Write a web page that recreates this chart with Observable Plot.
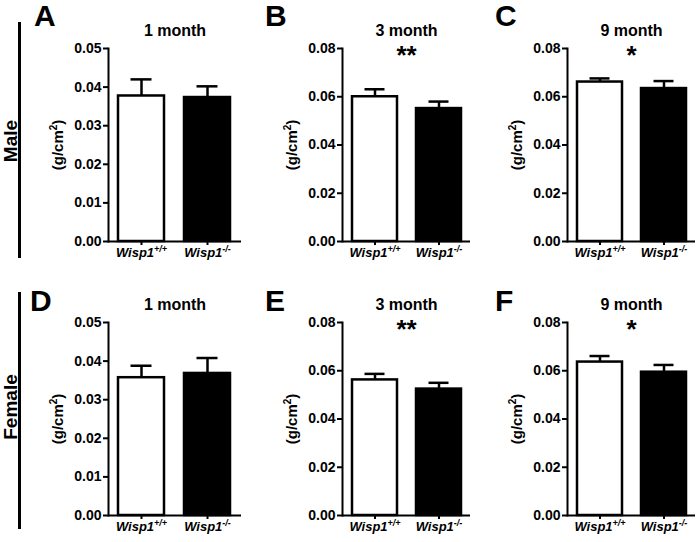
<!DOCTYPE html>
<html>
<head>
<meta charset="utf-8">
<script src="https://cdn.jsdelivr.net/npm/d3@7"></script>
<script src="https://cdn.jsdelivr.net/npm/@observablehq/plot@0.6"></script>
<style>
  html, body { margin: 0; padding: 0; background: white; }
  #fig { position: relative; width: 700px; height: 542px; background: white; overflow: hidden;
         font-family: "Liberation Sans", Arial, sans-serif; font-weight: bold; color: black; }
  .abs { position: absolute; }
  .letter { font-size: 30px; line-height: 30px; }
  .row { font-size: 19px; white-space: nowrap; transform: translate(-50%, -50%) rotate(-90deg); }
  .vline { background: black; width: 3px; }
</style>
</head>
<body>
<div id="fig"></div>
<script>
// ---- data ----
const groups = ["Wisp1+/+", "Wisp1-/-"];
const groupBase = ["Wisp1", "Wisp1"];
const groupSup = ["+/+", "-/-"];
const sexes = ["Male", "Female"];
const panelLetters = ["A", "B", "C", "D", "E", "F"];
const ages = ["1 month", "3 month", "9 month", "1 month", "3 month", "9 month"];
const wtMean = [0.0377, 0.0600, 0.0661, 0.0357, 0.0562, 0.0636];
const koMean = [0.0373, 0.0551, 0.0634, 0.0368, 0.0524, 0.0594];
const wtSem  = [0.0043, 0.0031, 0.0015, 0.0031, 0.0025, 0.0025];
const koSem  = [0.0029, 0.0029, 0.0031, 0.0040, 0.0026, 0.0030];
const yMax = [0.05, 0.08, 0.08, 0.05, 0.08, 0.08];
const ticksSmall = [0, 0.01, 0.02, 0.03, 0.04, 0.05];
const ticksLarge = [0, 0.02, 0.04, 0.06, 0.08];
const stars = ["", "**", "*", "", "**", "*"];
const yLabelBase = "(g/cm";
const yLabelSup = "2";
const yLabelEnd = ")";

// ---- layout ----
const fig = document.getElementById("fig");
const colLeft = [40, 272, 497];
const colWidth = [206, 203, 203];
const colMarginLeft = [68, 70, 70];
const rowTop = [20, 294];
const rowHeight = [251, 248];
const rowMarginBottom = [30, 27];
const letterPos = [[34, 1], [265, 1], [495, 1], [30, 286], [265, 286], [495, 286]];

function addDiv(cls, style, text) {
  const d = document.createElement("div");
  d.className = cls;
  Object.assign(d.style, style);
  if (text != null) d.textContent = text;
  fig.appendChild(d);
  return d;
}

// row labels and vertical bars
addDiv("abs vline", {left: "18px", top: "22px", height: "236px"});
addDiv("abs vline", {left: "18px", top: "292px", height: "237px"});
addDiv("abs row", {left: "11px", top: "141px"}, sexes[0]);
addDiv("abs row", {left: "11px", top: "407px"}, sexes[1]);

for (let i = 0; i < 6; i++) {
  const r = Math.floor(i / 3), c = i % 3;
  const data = groups.map((g, j) => ({
    group: g,
    mean: j === 0 ? wtMean[i] : koMean[i],
    sem: j === 0 ? wtSem[i] : koSem[i]
  }));
  const plot = Plot.plot({
    width: colWidth[c],
    height: rowHeight[r],
    marginLeft: colMarginLeft[c],
    marginRight: 5,
    marginTop: 28,
    marginBottom: rowMarginBottom[r],
    style: {fontFamily: '"Liberation Sans", Arial, sans-serif', fontWeight: "bold", fontSize: "14px",
            background: "transparent", overflow: "visible", color: "black"},
    x: {domain: groups, paddingInner: 0.3, paddingOuter: 0.15, label: null},
    y: {domain: [0, yMax[i]]},
    color: {domain: groups, range: ["white", "black"]},
    marks: [
      Plot.barY(data, {x: "group", y: "mean", fill: "group", stroke: "black", strokeWidth: 2.5}),
      Plot.ruleX(data, {x: "group", y1: "mean", y2: d => d.mean + d.sem, stroke: "black", strokeWidth: 2.5}),
      Plot.tickY(data, {x: "group", y: d => d.mean + d.sem, stroke: "black", strokeWidth: 2.5, insetLeft: 12.5, insetRight: 12.5}),
      Plot.ruleY([0], {stroke: "black", strokeWidth: 2}),
      Plot.frame({anchor: "left", stroke: "black", strokeWidth: 2}),
      Plot.axisY({ticks: yMax[i] === 0.05 ? ticksSmall : ticksLarge, tickFormat: d3.format(".2f"),
                  tickSize: 5, tickPadding: 2, strokeWidth: 2, fontSize: 14,
                  label: yLabelBase + yLabelSup + yLabelEnd, labelAnchor: "center", labelOffset: 56}),
      Plot.axisX({tickSize: 4, tickPadding: 2, strokeWidth: 2, label: null, fontSize: 13}),
      Plot.text([ages[i]], {frameAnchor: "top", dy: -18, fontSize: 16, fontWeight: "bold", lineAnchor: "middle"}),
      Plot.text([stars[i]], {frameAnchor: "top", dy: 7, fontSize: 26, fontWeight: "bold", lineAnchor: "middle"})
    ]
  });
  plot.style.position = "absolute";
  plot.style.left = colLeft[c] + "px";
  plot.style.top = rowTop[r] + "px";
  fig.appendChild(plot);

  const svg = d3.select(plot);
  // superscripts on x tick labels
  svg.selectAll('g[aria-label="x-axis tick label"] text').each(function () {
    const t = d3.select(this);
    const k = groups.indexOf(t.text());
    if (k < 0) return;
    t.text(null).attr("font-style", "italic");
    t.append("tspan").text(groupBase[k]);
    t.append("tspan").attr("dy", -5).attr("font-size", 9).text(groupSup[k]);
  });
  // superscript on y axis label
  svg.selectAll('g[aria-label="y-axis label"] text').each(function () {
    const t = d3.select(this);
    t.text(null).attr("font-size", 15);
    t.append("tspan").text(yLabelBase);
    t.append("tspan").attr("dy", -6).attr("font-size", 10).text(yLabelSup);
    t.append("tspan").attr("dy", 6).text(yLabelEnd);
  });

  addDiv("abs letter", {left: letterPos[i][0] + "px", top: letterPos[i][1] + "px"}, panelLetters[i]);
}
</script>
</body>
</html>
